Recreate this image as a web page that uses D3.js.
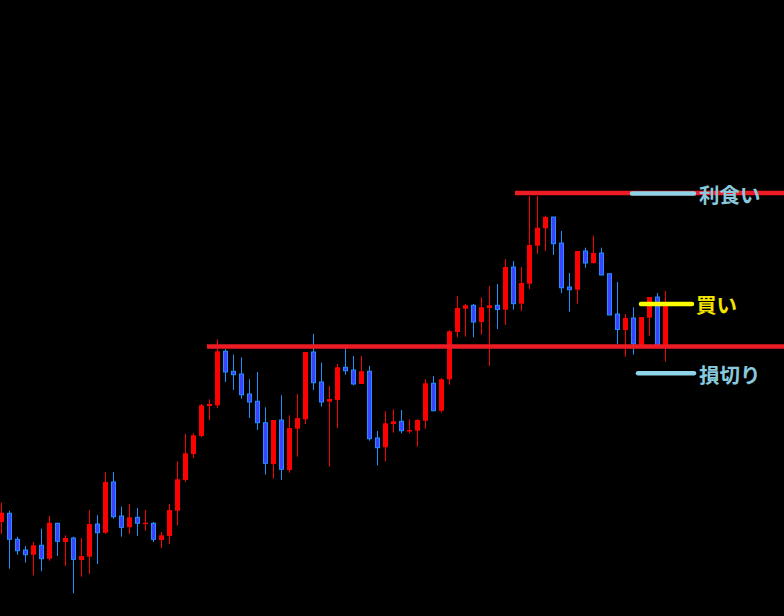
<!DOCTYPE html>
<html>
<head>
<meta charset="utf-8">
<script src="https://cdn.jsdelivr.net/npm/d3@7"></script>
<style>
  html, body { margin: 0; padding: 0; background: #000; }
  svg { display: block; }
</style>
</head>
<body>
<div id="chart"></div>
<script>
// OHLC, one entry per bar (oldest first)
const open = [110.940, 111.027, 110.767, 110.660, 110.613, 110.707, 110.573, 110.927, 110.740, 110.780,
  110.560, 110.593, 110.920, 110.833, 111.340, 111.000, 110.887, 110.987, 110.920, 110.927,
  110.760, 110.800, 111.053, 111.360, 111.620, 111.800, 112.100, 112.107, 112.647, 112.447,
  112.420, 112.220, 112.147, 111.933, 111.520, 111.960, 111.460, 111.873, 111.967, 112.640,
  112.340, 112.143, 112.160, 112.487, 112.460, 112.320, 112.447, 111.780, 111.687, 111.920,
  111.947, 111.847, 111.853, 111.953, 112.327, 112.053, 112.367, 112.840, 113.073, 113.107,
  112.940, 113.080, 113.107, 113.063, 113.490, 113.123, 113.323, 113.703, 113.877, 113.990,
  113.730, 113.290, 113.263, 113.650, 113.530, 113.630, 113.423, 113.020, 112.860, 112.980,
  112.700, 112.983, 113.190, 112.710];
const high = [111.133, 111.053, 110.793, 110.700, 110.740, 110.873, 111.000, 110.933, 110.807, 110.793,
  110.780, 111.060, 111.007, 111.440, 111.440, 111.093, 111.120, 111.080, 111.060, 110.940,
  110.840, 111.120, 111.547, 111.820, 111.827, 112.120, 112.167, 112.767, 112.667, 112.613,
  112.587, 112.367, 112.440, 112.087, 111.960, 112.207, 112.007, 112.220, 112.640, 112.820,
  112.533, 112.300, 112.520, 112.680, 112.600, 112.600, 112.500, 111.850, 112.047, 112.067,
  112.060, 111.967, 111.967, 112.367, 112.400, 112.380, 112.860, 113.200, 113.120, 113.120,
  113.187, 113.300, 113.320, 113.570, 113.550, 113.490, 114.200, 114.200, 114.003, 113.990,
  113.850, 113.430, 113.650, 113.683, 113.803, 113.683, 113.423, 113.340, 113.020, 113.087,
  112.990, 113.190, 113.230, 113.250];
const low = [110.820, 110.473, 110.613, 110.533, 110.407, 110.447, 110.553, 110.600, 110.500, 110.227,
  110.393, 110.420, 110.520, 110.820, 110.973, 110.793, 110.820, 110.800, 110.853, 110.740,
  110.680, 110.720, 110.907, 111.340, 111.580, 111.787, 111.960, 112.080, 112.340, 112.260,
  112.173, 111.980, 111.860, 111.413, 111.373, 111.360, 111.433, 111.593, 111.920, 112.260,
  112.093, 111.493, 111.880, 112.413, 112.307, 112.320, 111.753, 111.505, 111.547, 111.833,
  111.827, 111.827, 111.693, 111.873, 112.047, 112.033, 112.313, 112.787, 112.793, 112.787,
  112.813, 112.500, 112.870, 112.910, 113.063, 113.050, 113.270, 113.623, 113.650, 113.610,
  113.230, 113.043, 113.123, 113.483, 113.523, 113.410, 113.010, 112.720, 112.593, 112.613,
  112.690, 112.803, 112.690, 112.543];
const close = [111.033, 110.767, 110.653, 110.613, 110.707, 110.573, 110.933, 110.747, 110.780, 110.567,
  110.600, 110.920, 110.833, 111.340, 110.993, 110.887, 110.987, 110.927, 110.933, 110.767,
  110.807, 111.060, 111.367, 111.627, 111.807, 112.107, 112.120, 112.647, 112.440, 112.413,
  112.213, 112.140, 111.933, 111.527, 111.960, 111.467, 111.880, 111.980, 112.640, 112.333,
  112.140, 112.170, 112.487, 112.453, 112.320, 112.447, 111.773, 111.683, 111.927, 111.947,
  111.853, 111.860, 111.960, 112.327, 112.053, 112.367, 112.847, 113.080, 113.107, 112.940,
  113.087, 113.107, 113.065, 113.490, 113.123, 113.330, 113.710, 113.883, 113.990, 113.723,
  113.283, 113.263, 113.650, 113.530, 113.630, 113.410, 113.010, 112.865, 112.980, 112.720,
  112.990, 113.190, 112.710, 113.120];

// trade levels: take profit / entry (buy) / stop loss
const level_names = ["利食い", "買い", "損切り"];
const level_prices = [114.230, 113.120, 112.427];
const level_colors = ["#8fd3e8", "#ffff00", "#8fd3e8"];
const level_text_colors = ["#88c9dd", "#f2e400", "#88c9dd"];

// red horizontal lines (resistance / support) and the bar they start from
const hline_prices = [114.230, 112.695];
const hline_start_bar = [64, 26];


const width = 784, height = 616;
const up_color = "#ff0000";
const down_fill = "#4040ff";
const down_edge = "#1e90ff";
const hline_color = "#ed1c24";

let bars = d3.range(open.length).map(i => ({i: i, o: open[i], h: high[i], l: low[i], c: close[i]}));

let x = d3.scaleLinear()
          .domain([0, bars.length - 1])
          .range([1.5, 1.5 + 8 * (bars.length - 1)]);

let y = d3.scaleLinear()
          .domain([110, 116.16])
          .range([height, 0]);

let svg = d3.select("#chart")
            .append("svg")
            .attr("width", width)
            .attr("height", height)
            .style("background", "#000");

svg.append("rect").attr("width", width).attr("height", height).attr("fill", "#000");

// candles
let candle = svg.append("g")
                .selectAll("g")
                .data(bars)
                .join("g");

candle.append("line")
      .attr("x1", d => x(d.i))
      .attr("x2", d => x(d.i))
      .attr("y1", d => y(d.h))
      .attr("y2", d => y(d.l))
      .attr("stroke", d => d.c >= d.o ? up_color : down_edge)
      .attr("stroke-width", 1);

candle.filter(d => d.c >= d.o)
      .append("rect")
      .attr("x", d => x(d.i) - 2.5)
      .attr("width", 5)
      .attr("y", d => y(d.c))
      .attr("height", d => Math.max(1.5, y(d.o) - y(d.c)))
      .attr("fill", up_color);

candle.filter(d => d.c < d.o)
      .append("rect")
      .attr("x", d => x(d.i) - 2)
      .attr("width", 4)
      .attr("y", d => y(d.o))
      .attr("height", d => Math.max(1, y(d.c) - y(d.o)))
      .attr("fill", down_fill)
      .attr("stroke", down_edge)
      .attr("stroke-width", 1);

// red levels across the right side
svg.append("g")
   .selectAll("line")
   .data(hline_prices)
   .join("line")
   .attr("x1", (d, i) => x(hline_start_bar[i]) + (i === 0 ? 1.5 : -2.5))
   .attr("x2", width)
   .attr("y1", d => y(d))
   .attr("y2", d => y(d))
   .attr("stroke", hline_color)
   .attr("stroke-width", 4.5);

// labels with short marker lines
let marker_x0 = [632, 641, 638];
let label = svg.append("g")
               .selectAll("g")
               .data(level_names)
               .join("g");

label.append("line")
     .attr("x1", (d, i) => marker_x0[i])
     .attr("x2", (d, i) => i === 1 ? 692 : 694)
     .attr("y1", (d, i) => y(level_prices[i]) + (i === 0 ? 0.5 : 0))
     .attr("y2", (d, i) => y(level_prices[i]) + (i === 0 ? 0.5 : 0))
     .attr("stroke", (d, i) => level_colors[i])
     .attr("stroke-width", 4.5)
     .attr("stroke-linecap", "round");

label.append("text")
     .attr("x", (d, i) => i === 1 ? 696 : 699)
     .attr("y", (d, i) => y(level_prices[i]) + (i === 1 ? -0.5 : 0.5))
     .attr("dominant-baseline", "central")
     .attr("font-family", "'Noto Sans CJK JP', 'Noto Sans', sans-serif")
     .attr("font-weight", "bold")
     .attr("font-size", "20.5px")
     .attr("fill", (d, i) => level_text_colors[i])
     .text(d => d);
</script>
</body>
</html>
